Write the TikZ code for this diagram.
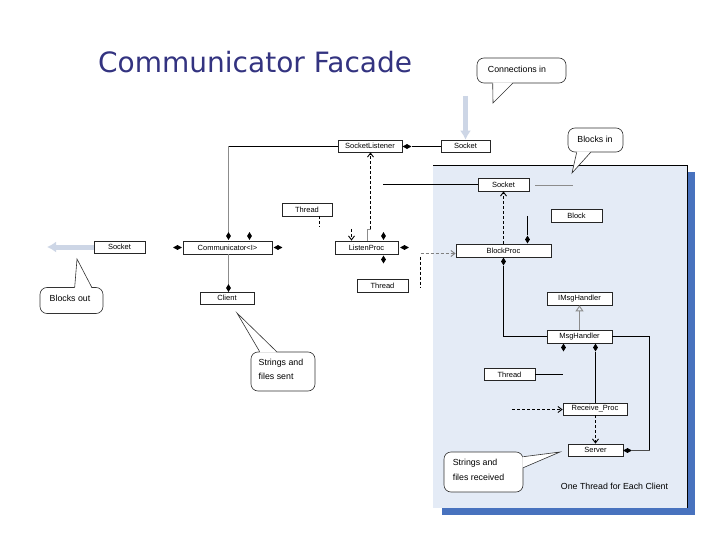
\documentclass[tikz,border=0pt]{standalone}
\usepackage{fontspec}
\setmainfont{Liberation Sans}
\newfontfamily\titlefont{DejaVu Sans}
\usetikzlibrary{shapes.geometric,arrows.meta,calc}
\definecolor{titleblue}{RGB}{51,51,128}
\definecolor{panelfill}{RGB}{228,235,246}
\definecolor{shadowblue}{RGB}{72,114,190}
\definecolor{thickarrow}{RGB}{205,214,230}
\tikzset{
  cls/.style={draw=black!85, fill=white, line width=0.7pt, inner sep=0pt, minimum height=13pt, font=\fontsize{7.5}{9}\selectfont},
  vdiam/.style={diamond, fill=black, inner sep=0pt, minimum width=5pt, minimum height=8pt},
  hdiam/.style={diamond, fill=black, inner sep=0pt, minimum width=9pt, minimum height=5pt},
  conn/.style={line width=0.9pt, draw=black},
  gconn/.style={line width=0.9pt, draw=black!45},
  dep/.style={line width=0.9pt, dash pattern=on 3pt off 2pt},
  openhead/.style={-{Straight Barb[length=4pt,width=6pt]}},
  bubble/.style={draw=black!80, fill=white, rounded corners=7pt, line width=0.6pt, font=\fontsize{8.8}{14.5}\selectfont, inner sep=0pt},
  bubbleline/.style={draw=black!80, line width=0.6pt},
  btext/.style={font=\fontsize{8.8}{14.5}\selectfont, align=left, inner sep=0pt},
  bigarrow/.style={line width=5pt, draw=thickarrow, -{Latex[length=9pt,width=11pt]}},
}
\begin{document}
\begin{tikzpicture}[x=1pt,y=-1pt]
\useasboundingbox (0,0) rectangle (720,540);
\fill[white] (0,0) rectangle (720,540);

% title
\node[font=\titlefont\fontsize{28}{33}\selectfont, text=titleblue, anchor=base west, inner sep=0pt] (title) at (98,73) {Communicator Facade};

% panel
\fill[shadowblue] (442,172) rectangle (695,515);
\fill[panelfill] (433,165) rectangle (688,508);
\draw[line width=0.9pt] (433,165.5) -- (687.5,165.5) -- (687.5,508);

% class boxes
\node[cls, minimum width=51pt, minimum height=12pt] (sockL) at (119.5,247) {Socket};
\node[cls, minimum width=89pt] (comm) at (227.5,247.5) {Communicator<I>};
\node[cls, minimum width=54pt, minimum height=12pt] (client) at (227,298) {Client};
\node[cls, minimum width=50pt] (thread1) at (307,209.5) {Thread};
\node[cls, minimum width=64pt, minimum height=12pt] (sl) at (370,146) {SocketListener};
\node[cls, minimum width=49pt, minimum height=12pt] (sockT) at (465.5,146) {Socket};
\node[cls, minimum width=63pt] (lp) at (366.5,247.5) {ListenProc};
\node[cls, minimum width=51pt] (thread2) at (382.5,285.5) {Thread};
\node[cls, minimum width=51pt] (sockP) at (503.5,184.5) {Socket};
\node[cls, minimum width=51pt] (block) at (576.5,215.5) {Block};
\node[cls, minimum width=95pt] (bp) at (503.5,250.5) {BlockProc};
\node[cls, minimum width=65pt] (imh) at (579.5,298.5) {IMsgHandler};
\node[cls, minimum width=65pt] (mh) at (579.5,336.5) {MsgHandler};
\node[cls, minimum width=51pt, minimum height=12pt] (thread3) at (509.5,374.5) {Thread};
\node[cls, minimum width=64pt, minimum height=12pt] (rp) at (595,409) {Receive\_Proc};
\node[cls, minimum width=55pt, minimum height=12pt] (server) at (595.5,450) {Server};

% diamonds
\node[hdiam] (dcl) at (177.5,247.5) {};
\node[hdiam] (dcr) at (278,247.5) {};
\node[vdiam] (dct1) at (228.5,236) {};
\node[vdiam] (dct2) at (249.5,236) {};
\node[vdiam] (dcb) at (228.5,288) {};
\node[vdiam] (dlpt) at (383.5,236) {};
\node[vdiam] (dlpb) at (383.5,259.5) {};
\node[hdiam] (dlpr) at (404.5,247.5) {};
\node[hdiam] (dsl) at (407,146.5) {};
\node[vdiam] (dbpt) at (527.5,239.5) {};
\node[vdiam] (dbpb) at (503.5,261.5) {};
\node[vdiam] (dmh1) at (563.5,347.5) {};
\node[vdiam] (dmh2) at (595.5,347.5) {};
\node[hdiam] (dsrv) at (627.5,450.5) {};

% free ends
\coordinate (arrL) at (47,247);
\coordinate (arrT) at (465.5,96);
\coordinate (slcorner) at (228.5,146.5);
\coordinate (t1end) at (319.5,227);
\coordinate (t1start) at (319.5,216);
\coordinate (lpin) at (351.5,229);
\coordinate (sldash) at (370.5,229);
\coordinate (lpjoin) at (367.5,229);
\coordinate (sockPin) at (383,184.5);
\coordinate (sockPout) at (573,185.5);
\coordinate (blkline) at (527.5,216);
\coordinate (bpdash) at (420.5,253.5);
\coordinate (bpdashlow) at (420.5,287);
\coordinate (mhright) at (649.5,336.5);
\coordinate (mhdown) at (649.5,450.5);
\coordinate (t3end) at (563,374.5);
\coordinate (rpdash) at (512,409.5);

% connectors
\draw[bigarrow] (sockL.west) -- (arrL);
\draw[bigarrow] (arrT) -- (sockT.north);
\draw[conn] (sl.west |- slcorner) -- (slcorner);
\draw[gconn] (slcorner) -- (dct1.north);
\draw[gconn] (comm.south -| dcb) -- (dcb.north);
\draw[conn] (dsl.east) -- (sockT.west |- dsl);
\draw[dep] (t1start) -- (t1end);
\draw[dep, openhead] (lpin) -- (lpin |- lp.north);
\draw[gconn] (lp.north -| lpjoin) -- (lpjoin) -- (sldash);
\draw[dep, openhead] (sldash) -- (sl.south -| sldash);
\draw[conn] (sockPin) -- (sockP.west |- sockPin);
\draw[gconn] (sockPout -| sockP.east) ++(6,0) -- (sockPout);
\draw[dep, openhead] (bp.north -| dbpb) -- (sockP.south -| dbpb);
\draw[conn] (blkline) -- (dbpt.north);
\draw[dep, draw=black!50, openhead] (bpdash) -- (bpdash -| bp.west);
\draw[dep] (bpdash) ++(0,3) -- (bpdashlow);
\draw[conn] (dbpb.south) |- (mh.west);
\draw[gconn, -{Triangle[open, length=6pt, width=8pt]}] (mh.north) -- (imh.south);
\draw[conn] (mh.east |- mhright) -- (mhright) -- (mhdown);
\draw[gconn, draw=black!70] (mhdown) -- (dsrv.east);
\draw[conn] (dmh2.south) -- (rp.north -| dmh2);
\draw[conn] (thread3.east) -- (t3end);
\draw[dep, openhead] (rpdash) -- (rp.west |- rpdash);
\draw[dep, openhead] (rp.south -| dmh2) -- (server.north -| dmh2);

% callouts
\node[bubble, minimum width=89pt, minimum height=25pt] (bci) at (521.5,70.5) {};
\node[btext] (bcit) at (517,69) {Connections in};
\coordinate (bcitip) at (493,103);
\fill[white] ($(bci.south west)+(16,-1)$) -- (bcitip) -- ($(bci.south west)+(36,-1)$) -- cycle;
\draw[bubbleline] ($(bci.south west)+(16,0)$) -- (bcitip) -- ($(bci.south west)+(36,0)$);

\node[bubble, minimum width=55pt, minimum height=24pt] (bbi) at (595.5,140) {};
\node[btext] (bbit) at (595,139) {Blocks in};
\coordinate (bbitip) at (572,173);
\fill[white] ($(bbi.south west)+(9,-1)$) -- (bbitip) -- ($(bbi.south west)+(23,-1)$) -- cycle;
\draw[bubbleline] ($(bbi.south west)+(9,0)$) -- (bbitip) -- ($(bbi.south west)+(23,0)$);

\node[bubble, minimum width=63pt, minimum height=26pt] (bbo) at (71.5,300.5) {};
\node[btext] (bbot) at (70,298.5) {Blocks out};
\coordinate (bbotip) at (77,259);
\fill[white] ($(bbo.north west)+(35,1)$) -- (bbotip) -- ($(bbo.north west)+(52,1)$) -- cycle;
\draw[bubbleline] ($(bbo.north west)+(35,0)$) -- (bbotip) -- ($(bbo.north west)+(52,0)$);

\node[bubble, minimum width=64pt, minimum height=39pt] (bss) at (283,371.5) {};
\node[btext] (bsst) at (281,369.5) {Strings and\\files sent};
\coordinate (bsstip) at (237,313);
\fill[white] ($(bss.north west)+(9,1)$) -- (bsstip) -- ($(bss.north west)+(26,1)$) -- cycle;
\draw[bubbleline] ($(bss.north west)+(9,0)$) -- (bsstip) -- ($(bss.north west)+(26,0)$);

\node[bubble, minimum width=79pt, minimum height=40pt] (bsr) at (483.5,472) {};
\node[btext] (bsrt) at (478.5,470) {Strings and\\files received};
\coordinate (bsrtip) at (560,452);
\fill[white] ($(bsr.north east)+(-1,5)$) -- (bsrtip) -- ($(bsr.north east)+(-1,16)$) -- cycle;
\draw[bubbleline] ($(bsr.north east)+(0,5)$) -- (bsrtip) -- ($(bsr.north east)+(0,16)$);

% caption in panel
\node[font=\fontsize{8.8}{11}\selectfont, inner sep=0pt] (caption) at (614.5,486) {One Thread for Each Client};
\end{tikzpicture}
\end{document}
